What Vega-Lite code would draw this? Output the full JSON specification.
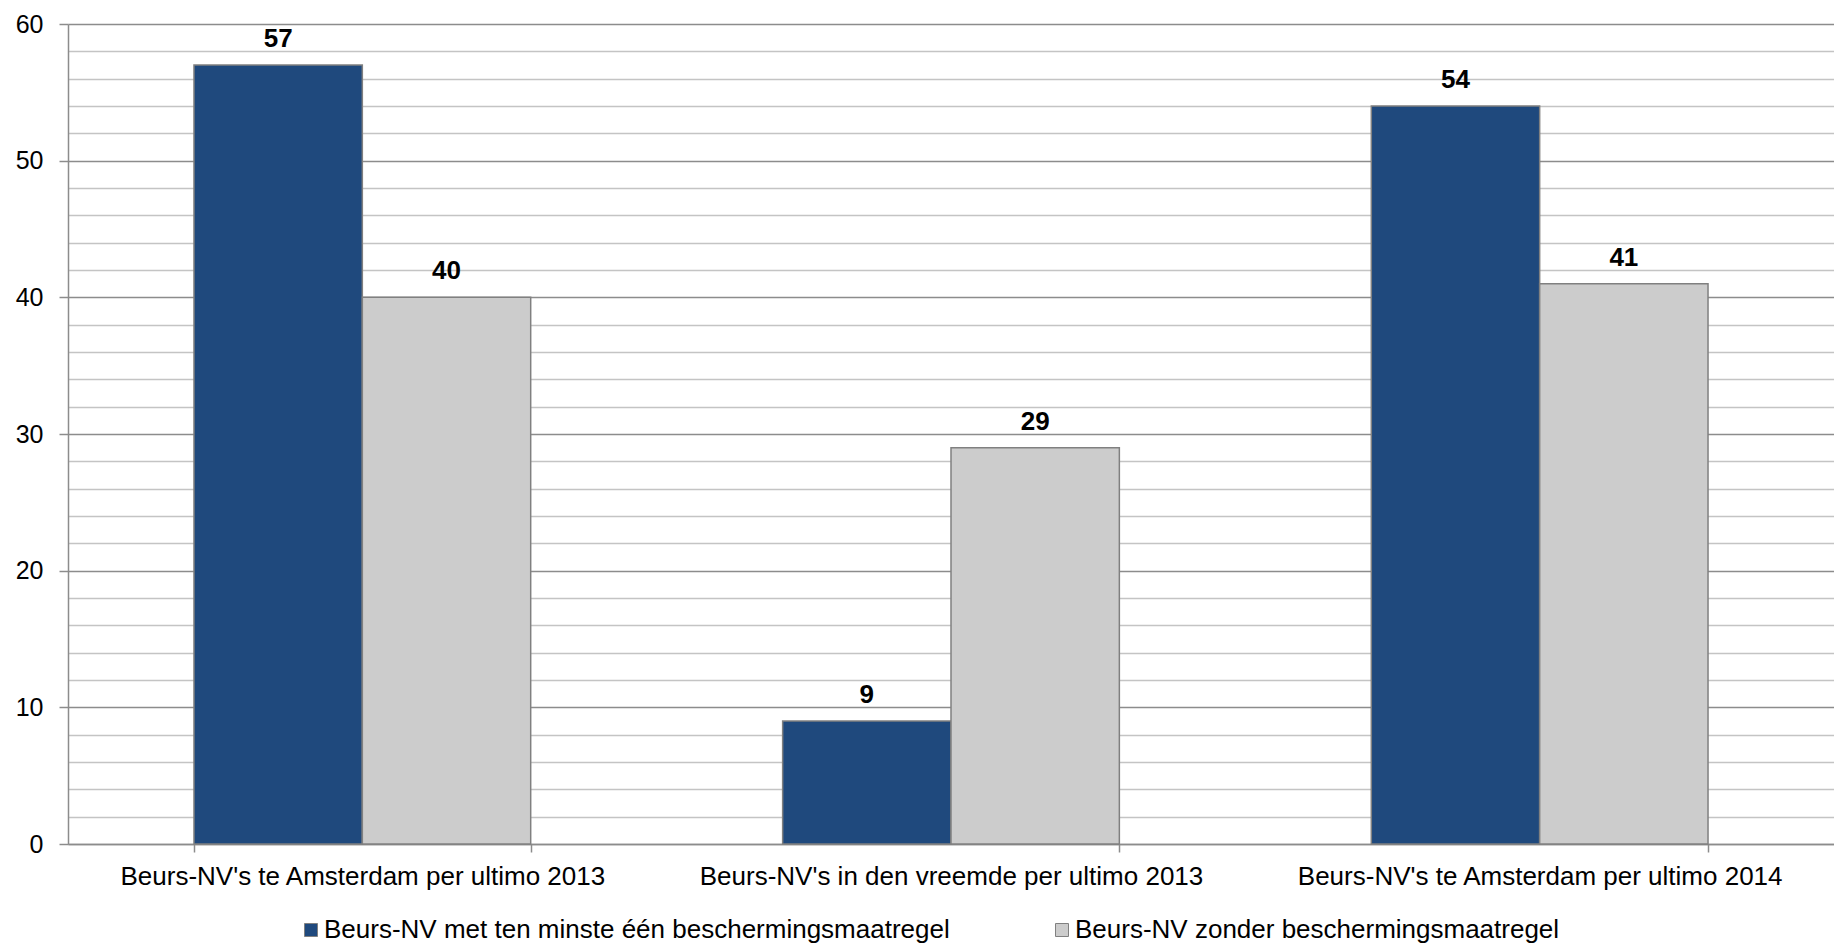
{
  "$schema": "https://vega.github.io/schema/vega-lite/v6.json",
  "autosize": "none",
  "width": 1766,
  "height": 820,
  "padding": {"left": 68, "top": 24, "right": 0, "bottom": 99},
  "background": "white",
  "config": {
    "font": "Liberation Sans",
    "view": {"stroke": null}
  },
  "data": {
    "values": [
      {"categorie": "Beurs-NV's te Amsterdam per ultimo 2013", "reeks": "Beurs-NV met ten minste één beschermingsmaatregel", "aantal": 57},
      {"categorie": "Beurs-NV's te Amsterdam per ultimo 2013", "reeks": "Beurs-NV zonder beschermingsmaatregel", "aantal": 40},
      {"categorie": "Beurs-NV's in den vreemde per ultimo 2013", "reeks": "Beurs-NV met ten minste één beschermingsmaatregel", "aantal": 9},
      {"categorie": "Beurs-NV's in den vreemde per ultimo 2013", "reeks": "Beurs-NV zonder beschermingsmaatregel", "aantal": 29},
      {"categorie": "Beurs-NV's te Amsterdam per ultimo 2014", "reeks": "Beurs-NV met ten minste één beschermingsmaatregel", "aantal": 54},
      {"categorie": "Beurs-NV's te Amsterdam per ultimo 2014", "reeks": "Beurs-NV zonder beschermingsmaatregel", "aantal": 41}
    ]
  },
  "encoding": {
    "x": {
      "field": "categorie",
      "type": "nominal",
      "sort": null,
      "scale": {"paddingInner": 0.428, "paddingOuter": 0.214},
      "axis": {
        "title": null,
        "labelAngle": 0,
        "labelFontSize": 26,
        "labelColor": "#000000",
        "labelPadding": 11,
        "labelLimit": 0,
        "tickBand": "extent",
        "tickSize": 8,
        "tickColor": "#8c8c8c",
        "tickWidth": 1.5,
        "domainColor": "#8c8c8c",
        "domainWidth": 1.5,
        "grid": false
      }
    },
    "xOffset": {"field": "reeks", "type": "nominal", "sort": null},
    "y": {
      "field": "aantal",
      "type": "quantitative",
      "scale": {"domain": [0, 60], "nice": false},
      "axis": {
        "title": null,
        "values": [0, 2, 4, 6, 8, 10, 12, 14, 16, 18, 20, 22, 24, 26, 28, 30, 32, 34, 36, 38, 40, 42, 44, 46, 48, 50, 52, 54, 56, 58, 60],
        "labelExpr": "datum.value % 10 === 0 ? datum.label : ''",
        "labelFontSize": 25,
        "labelColor": "#000000",
        "labelPadding": 16,
        "tickSize": 9,
        "tickWidth": 1.5,
        "tickColor": {"condition": {"test": "datum.value % 10 === 0", "value": "#8c8c8c"}, "value": "rgba(0,0,0,0)"},
        "domainColor": "#8c8c8c",
        "domainWidth": 1.5,
        "grid": true,
        "gridWidth": 1.5,
        "gridColor": {"condition": {"test": "datum.value % 10 === 0", "value": "#8c8c8c"}, "value": "#c4c4c4"}
      }
    }
  },
  "layer": [
    {
      "mark": {"type": "bar", "stroke": "#808080", "strokeWidth": 1.5},
      "encoding": {
        "color": {
          "field": "reeks",
          "type": "nominal",
          "sort": null,
          "scale": {"range": ["#1f497d", "#cccccc"]},
          "legend": {
            "title": null,
            "orient": "none",
            "direction": "horizontal",
            "legendX": 230,
            "legendY": 893,
            "padding": 0,
            "symbolType": "square",
            "symbolSize": 169,
            "symbolStrokeColor": "#808080",
            "symbolStrokeWidth": 1,
            "labelFontSize": 26,
            "labelColor": "#000000",
            "labelOffset": 0,
            "labelLimit": 0,
            "columnPadding": 99
          }
        }
      }
    },
    {
      "mark": {"type": "text", "fontWeight": "bold", "fontSize": 26, "dy": -26, "baseline": "middle", "color": "#000000"},
      "encoding": {
        "text": {"field": "aantal", "type": "quantitative"}
      }
    }
  ]
}
